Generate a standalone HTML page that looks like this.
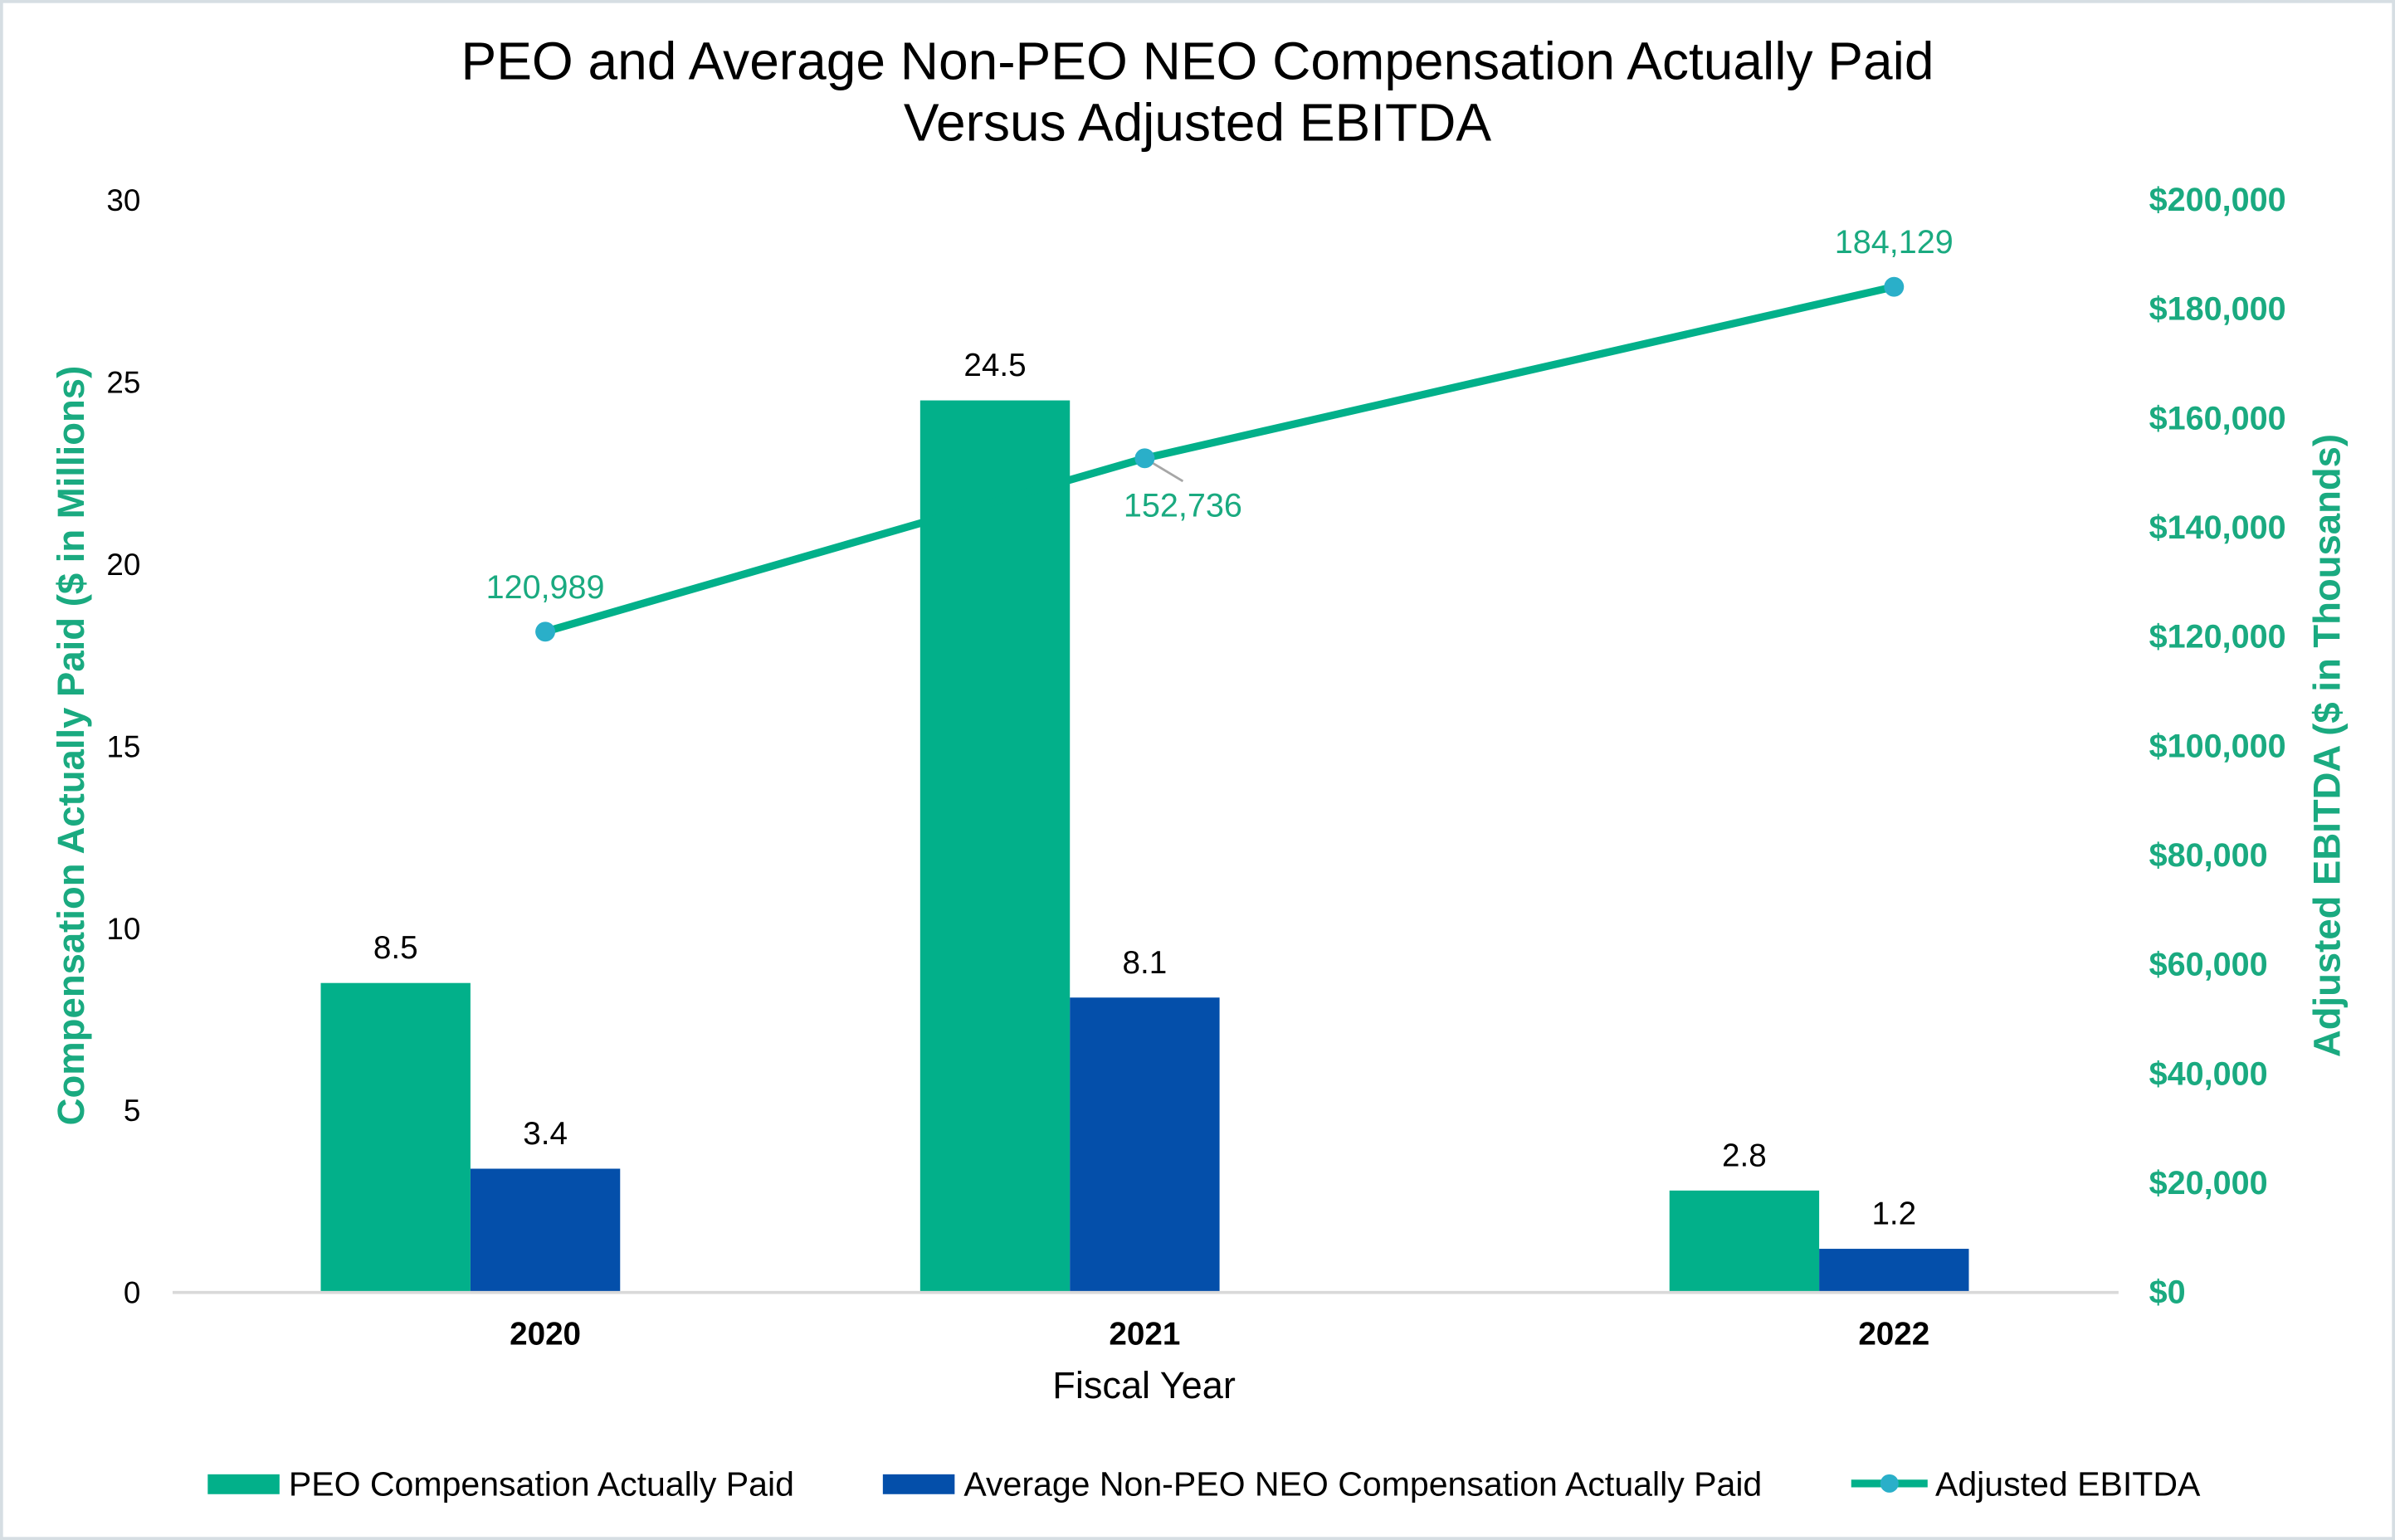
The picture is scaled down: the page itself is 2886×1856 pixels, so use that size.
<!DOCTYPE html>
<html><head><meta charset="utf-8"><style>
html,body{margin:0;padding:0;background:#fff}
svg{display:block;font-family:"Liberation Sans",Arial,sans-serif}
</style></head><body>
<svg id="chart" width="2886" height="1856" viewBox="0 0 1568 1008" preserveAspectRatio="none" xmlns="http://www.w3.org/2000/svg">
<rect x="1" y="1" width="1566" height="1006" fill="#fff" stroke="#D6DEE3" stroke-width="2"/>
<text x="784" y="52" text-anchor="middle" font-size="34.8" fill="#000">PEO and Average Non-PEO NEO Compensation Actually Paid</text>
<text x="784" y="92" text-anchor="middle" font-size="34.8" fill="#000">Versus Adjusted EBITDA</text>
<text transform="translate(55,488) rotate(-90)" text-anchor="middle" font-size="24.7" font-weight="bold" fill="#1AAA80">Compensation Actually Paid ($ in Millions)</text>
<text transform="translate(1532,488) rotate(-90)" text-anchor="middle" font-size="24.7" font-weight="bold" fill="#1AAA80">Adjusted EBITDA ($ in Thousands)</text>
<text x="749" y="915" text-anchor="middle" font-size="24.5" fill="#000">Fiscal Year</text>
<g id="leftTicks"></g><g id="rightTicks"></g><g id="bars"></g>
<line x1="113" y1="846" x2="1387" y2="846" stroke="#D9D9D9" stroke-width="2"/>
<g id="xLabels"></g><g id="line"></g>
<g>
<rect x="136" y="965" width="47" height="13" fill="#02B08A"/>
<text x="189" y="979" font-size="22.3" fill="#000">PEO Compensation Actually Paid</text>
<rect x="578" y="965" width="47" height="13" fill="#044FAA"/>
<text x="631" y="979" font-size="22.3" fill="#000">Average Non-PEO NEO Compensation Actually Paid</text>
<line x1="1212" y1="971" x2="1262" y2="971" stroke="#02B08A" stroke-width="5"/>
<circle cx="1237" cy="971" r="6" fill="#2AAFC9"/>
<text x="1267" y="979" font-size="22.3" fill="#000">Adjusted EBITDA</text>
</g>
</svg>
<script>
const categories = ['2020','2021','2022'];
const fiscalDates = ['2020-03-15','2021-01-01','2022-01-01'];
const peoValues = [8.5, 24.5, 2.8];
const neoValues = [3.4, 8.1, 1.2];
const ebitdaValues = [120989, 152736, 184129];
const leftTickValues = [0,5,10,15,20,25,30];
const rightTickValues = [0,20000,40000,60000,80000,100000,120000,140000,160000,180000,200000];

const NS='http://www.w3.org/2000/svg';
const Y0=846, Y1=131, X0=357, X2=1240, BW=98;
const yL=v=>Y0-(v/30)*(Y0-Y1);
const yR=v=>Y0-(v/200000)*(Y0-Y1);
const t=fiscalDates.map(d=>Date.parse(d));
const xS=d=>X0+(Date.parse(d)-t[0])/(t[t.length-1]-t[0])*(X2-X0);
function mk(tag,attrs,parent,text){const e=document.createElementNS(NS,tag);for(const k in attrs)e.setAttribute(k,attrs[k]);if(text!==undefined)e.textContent=text;document.getElementById(parent).appendChild(e);return e;}
const fmt=n=>n.toLocaleString('en-US');

leftTickValues.forEach(v=>{
  const e=mk('text',{x:92,y:yL(v)+7,'text-anchor':'end','font-size':20,fill:'#000'},'leftTicks',String(v));
  
  
});
rightTickValues.forEach(v=>{
  const e=mk('text',{x:1407,y:yR(v)+7,'font-size':21.5,'font-weight':'bold',fill:'#1AAA80'},'rightTicks','$'+fmt(v));
  
  
});
categories.forEach((c,i)=>{
  const cx=xS(fiscalDates[i]);
  let e=mk('rect',{x:cx-BW*1.5,y:yL(peoValues[i]),width:BW,height:Y0-yL(peoValues[i]),fill:'#02B08A'},'bars');
  
  
  e=mk('rect',{x:cx-BW*0.5,y:yL(neoValues[i]),width:BW,height:Y0-yL(neoValues[i]),fill:'#044FAA'},'bars');
  
  
  e=mk('text',{x:cx-BW,y:yL(peoValues[i])-16,'text-anchor':'middle','font-size':21,fill:'#000'},'bars',peoValues[i].toFixed(1));
  
  
  e=mk('text',{x:cx,y:yL(neoValues[i])-16,'text-anchor':'middle','font-size':21,fill:'#000'},'bars',neoValues[i].toFixed(1));
  
  
  e=mk('text',{x:cx,y:880,'text-anchor':'middle','font-size':21,'font-weight':'bold',fill:'#000'},'xLabels',c);
  
  
});
const pts=categories.map((c,i)=>[xS(fiscalDates[i]),yR(ebitdaValues[i])]);
let pl=mk('polyline',{points:pts.map(p=>p.join(',')).join(' '),fill:'none',stroke:'#02B08A','stroke-width':5,'stroke-linejoin':'round'},'line');


pts.forEach((p,i)=>{
  if(i===1){
    const l=mk('line',{x1:p[0],y1:p[1],x2:p[0]+25,y2:p[1]+15,stroke:'#A6A6A6','stroke-width':1.5},'line');
    
    
  }
  const c=mk('circle',{cx:p[0],cy:p[1],r:6.5,fill:'#2AAFC9'},'line');
  
  
  const lx=i===1?p[0]+25:p[0], ly=i===1?p[1]+38:p[1]-22;
  const tx=mk('text',{x:lx,y:ly,'text-anchor':'middle','font-size':21.5,fill:'#1AAA80'},'line',fmt(ebitdaValues[i]));
  
  
});
</script>
</body></html>
